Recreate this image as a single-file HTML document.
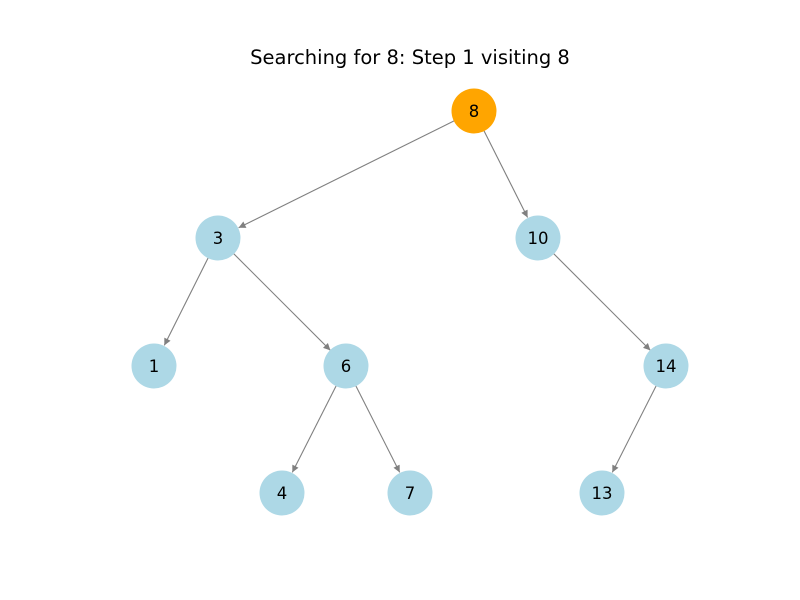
<!DOCTYPE html>
<html><head><meta charset="utf-8"><style>
html,body{margin:0;padding:0;background:#fff;}
svg{display:block;}
text{font-family:"DejaVu Sans","Liberation Sans",sans-serif;}
</style></head><body>
<svg width="800" height="600" viewBox="0 0 800 600" xmlns="http://www.w3.org/2000/svg">
<defs>
<marker id="a" viewBox="0 0 10 10" refX="10" refY="5" markerWidth="8" markerHeight="7" markerUnits="userSpaceOnUse" orient="auto">
<path d="M0,0 L10,5 L0,10 z" fill="#808080"/>
</marker>
</defs>
<rect width="800" height="600" fill="#fff"/>
<text x="410" y="64" font-size="19.5" text-anchor="middle" fill="#000">Searching for 8: Step 1 visiting 8</text>
<g stroke="#808080" stroke-width="1.1" marker-end="url(#a)">
<line x1="454.3" y1="120.8" x2="238.6" y2="227.8"/>
<line x1="483.9" y1="130.6" x2="527.6" y2="217.5"/>
<line x1="208.2" y1="257.7" x2="164.3" y2="345.4"/>
<line x1="233.6" y1="253.6" x2="330.4" y2="350.4"/>
<line x1="553.6" y1="253.6" x2="650.4" y2="350.4"/>
<line x1="336.2" y1="385.7" x2="292.3" y2="472.4"/>
<line x1="355.8" y1="385.7" x2="399.7" y2="472.4"/>
<line x1="656.2" y1="385.7" x2="612.3" y2="472.4"/>
</g>
<g>
<circle cx="474" cy="111" r="22.5" fill="#ffa500"/>
<circle cx="218" cy="238" r="22.5" fill="#add8e6"/>
<circle cx="538" cy="238" r="22.5" fill="#add8e6"/>
<circle cx="154" cy="366" r="22.5" fill="#add8e6"/>
<circle cx="346" cy="366" r="22.5" fill="#add8e6"/>
<circle cx="666" cy="366" r="22.5" fill="#add8e6"/>
<circle cx="282" cy="493" r="22.5" fill="#add8e6"/>
<circle cx="410" cy="493" r="22.5" fill="#add8e6"/>
<circle cx="602" cy="493" r="22.5" fill="#add8e6"/>
</g>
<g font-size="16.5" text-anchor="middle" fill="#000">
<text x="474" y="117">8</text>
<text x="218" y="244">3</text>
<text x="538" y="244">10</text>
<text x="154" y="372">1</text>
<text x="346" y="372">6</text>
<text x="666" y="372">14</text>
<text x="282" y="499">4</text>
<text x="410" y="499">7</text>
<text x="602" y="499">13</text>
</g>
</svg>
</body></html>
